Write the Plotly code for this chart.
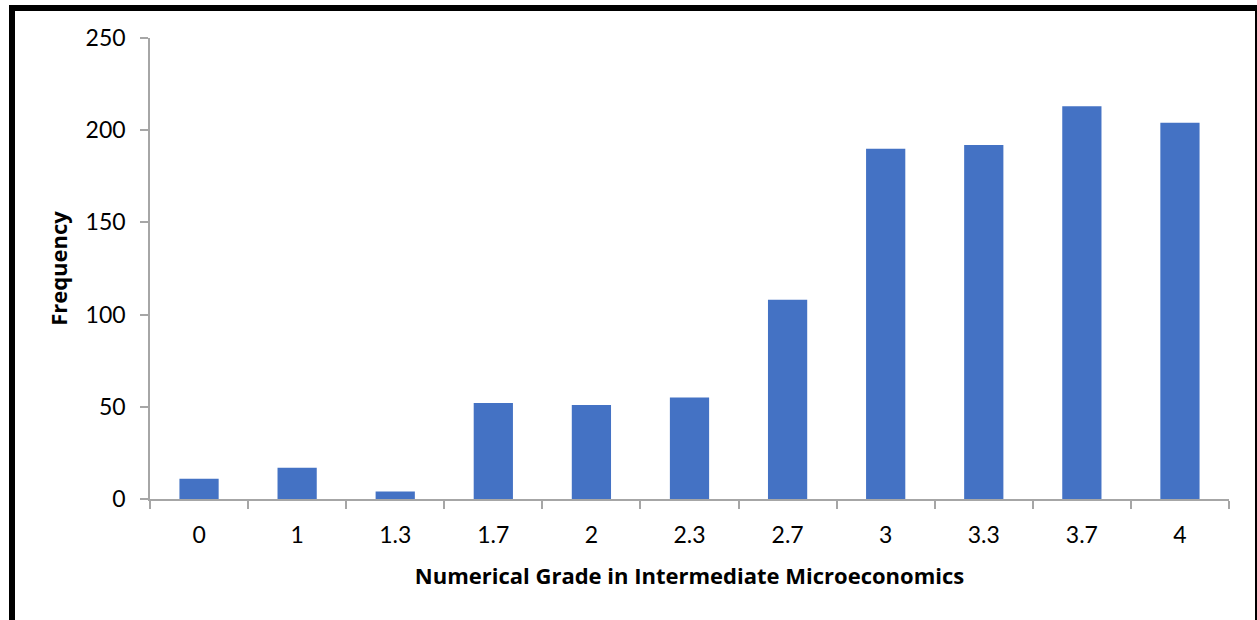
import plotly.graph_objects as go

grades = ["0", "1", "1.3", "1.7", "2", "2.3", "2.7", "3", "3.3", "3.7", "4"]
frequency = [11, 17, 4, 52, 51, 55, 108, 190, 192, 213, 204]
y_ticks = [0, 50, 100, 150, 200, 250]

W, H = 1257, 620
L, R, T, B = 150, 28, 38, 121
pw, ph = W - L - R, H - T - B

def px(x):
    return (x - L) / pw

def py(y):
    return (H - B - y) / ph

axis_grey = "#a6a6a6"
tick_font = "Lato, 'Open Sans', sans-serif"
title_font = "'Open Sans', Lato, sans-serif"

fig = go.Figure(go.Bar(x=grades, y=frequency, marker=dict(color="#4472C4", line=dict(width=0)), width=0.4))

fig.update_layout(
    width=W, height=H,
    margin=dict(l=L, r=R, t=T, b=B),
    paper_bgcolor="white", plot_bgcolor="white",
    font=dict(family=tick_font, color="black", size=23),
    showlegend=False,
    bargap=0.6,
)
fig.update_xaxes(
    type="category", showline=True, linecolor=axis_grey, linewidth=1.5,
    ticks="outside", tickson="boundaries", ticklen=8, tickcolor=axis_grey, tickwidth=1.5,
    tickfont=dict(size=23), ticklabelstandoff=15,
    showgrid=False,
    title=dict(text="<b>Numerical Grade in Intermediate Microeconomics</b>",
               font=dict(size=22, family=title_font), standoff=21),
)
fig.update_yaxes(
    range=[0, 250], tickvals=y_ticks, showline=True, linecolor=axis_grey, linewidth=1.5,
    ticks="outside", ticklen=8, tickcolor=axis_grey, tickwidth=1.5,
    tickfont=dict(size=23), ticklabelstandoff=10,
    showgrid=False, zeroline=False,
    title=dict(text="<b>Frequency</b>", font=dict(size=22, family=title_font), standoff=12),
)

# black frame edges (image crop of a bordered chart)
frame = [
    (9, 5, 1257, 11),
    (9, 5, 15, 620),
    (1255, 5, 1257, 620),
]
for x0, y0, x1, y1 in frame:
    fig.add_shape(type="rect", xref="paper", yref="paper",
                  x0=px(x0), x1=px(x1), y0=py(y1), y1=py(y0),
                  fillcolor="black", line=dict(width=0), layer="above")

fig.write_html("out.html", config={"displayModeBar": False},
               post_script="document.body.style.margin='0';")
